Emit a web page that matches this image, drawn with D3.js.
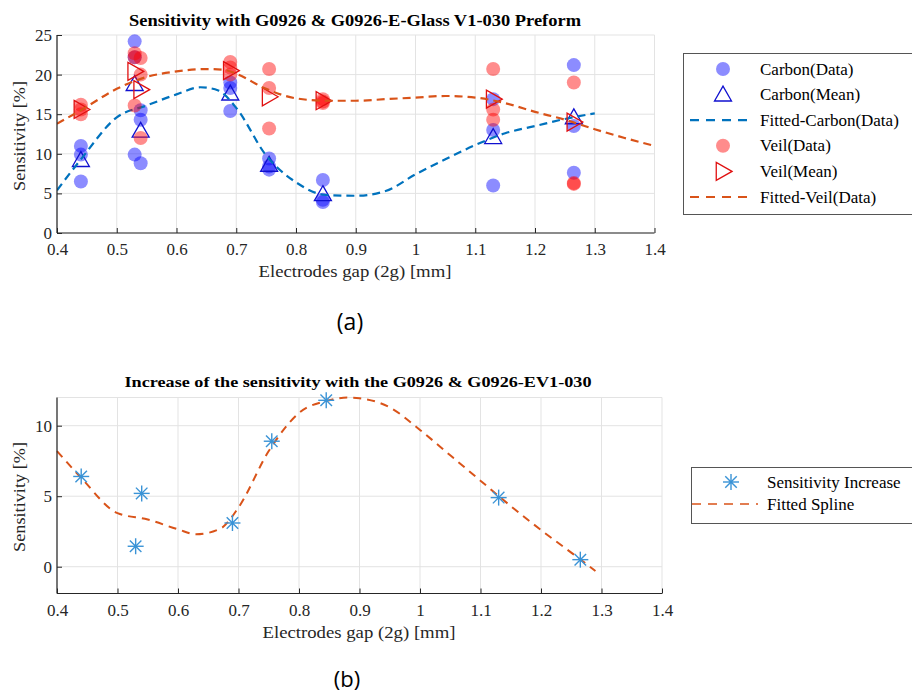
<!DOCTYPE html>
<html><head><meta charset="utf-8">
<script src="https://cdn.jsdelivr.net/npm/d3@7"></script>
<style>body{margin:0;background:#fff}svg{display:block}</style>
</head><body>
<svg id="c" width="912" height="694"></svg>
<script>
// ---------- DATA (a) ----------
const gaps = [0.44, 0.53, 0.54, 0.69, 0.755, 0.845, 1.13, 1.265];
const carbonData = [
  [11.0, 9.9, 6.5], [24.2, 22.2, 9.9], [15.5, 14.3, 8.8], [19.0, 18.3, 15.4],
  [9.4, 8.4, 8.0], [6.7, 4.2, 3.9], [16.9, 13.0, 6.0], [21.2, 13.5, 7.6]
];
const carbonMean = [9.2, 18.8, 12.9, 17.6, 8.6, 4.9, 12.1, 14.6];
const veilData = [
  [16.2, 15.6, 15.0], [22.7, 22.2, 16.1], [22.1, 20.0, 12.0], [21.6, 20.9, 20.0],
  [20.7, 18.3, 13.2], [16.9, 16.6, 16.4], [20.7, 15.6, 14.3], [19.0, 6.3, 6.2]
];
const veilMean = [15.6, 20.4, 18.1, 20.5, 17.2, 16.7, 16.9, 14.0];
const fitCarbonX = [0.40, 0.44, 0.50, 0.55, 0.60, 0.64, 0.67, 0.70, 0.75, 0.80, 0.85, 0.90, 0.95, 1.00, 1.05, 1.10, 1.15, 1.20, 1.25, 1.30];
const fitCarbonY = [5.4, 9.3, 14.6, 16.1, 17.5, 18.4, 18.0, 15.8, 9.8, 6.4, 4.8, 4.7, 5.3, 7.4, 9.3, 11.1, 12.6, 13.5, 14.4, 15.1];
const fitVeilX = [0.40, 0.44, 0.50, 0.55, 0.60, 0.65, 0.68, 0.70, 0.75, 0.80, 0.85, 0.90, 0.95, 1.00, 1.05, 1.10, 1.15, 1.20, 1.25, 1.30, 1.35, 1.40];
const fitVeilY = [13.8, 15.5, 18.2, 19.7, 20.4, 20.7, 20.6, 20.1, 18.2, 17.0, 16.7, 16.7, 16.9, 17.1, 17.3, 17.1, 16.4, 15.3, 14.3, 13.1, 12.0, 11.0];
// ---------- DATA (b) ----------
const incX = [0.44, 0.53, 0.54, 0.69, 0.755, 0.845, 1.13, 1.265];
const incY = [6.4, 1.45, 5.2, 3.1, 8.9, 11.8, 4.9, 0.5];
const splineX = [0.40, 0.44, 0.50, 0.55, 0.60, 0.63, 0.67, 0.70, 0.75, 0.80, 0.85, 0.88, 0.90, 0.95, 1.00, 1.05, 1.10, 1.15, 1.20, 1.25, 1.29];
const splineY = [8.2, 6.3, 3.8, 3.35, 2.65, 2.3, 2.7, 4.2, 8.2, 10.9, 11.8, 12.0, 11.95, 11.3, 9.7, 7.9, 6.1, 4.3, 2.6, 1.0, -0.3];
const xTicks = [0.4, 0.5, 0.6, 0.7, 0.8, 0.9, 1, 1.1, 1.2, 1.3, 1.4];
const yTicksA = [0, 5, 10, 15, 20, 25];
const yTicksB = [0, 5, 10];

const serif = "'Liberation Serif', 'DejaVu Serif', serif";
const sans = "'Open Sans', 'Noto Sans', sans-serif";
const cBlue = "#0072BD", cOrange = "#D95319";
const svg = d3.select("#c");

function axesFrame(g, x, y, yTicks) {
  const [x0, x1] = x.range(); const [y0, y1] = y.range();
  g.append("g").selectAll("line").data(xTicks).join("line")
    .attr("x1", d => x(d)).attr("x2", d => x(d)).attr("y1", y0).attr("y2", y1)
    .attr("stroke", "#e3e3e3").attr("stroke-width", 1);
  g.append("g").selectAll("line").data(yTicks).join("line")
    .attr("y1", d => y(d)).attr("y2", d => y(d)).attr("x1", x0).attr("x2", x1)
    .attr("stroke", "#e3e3e3").attr("stroke-width", 1);
  if (y(yTicks[yTicks.length-1]) !== y1) {
    g.append("line").attr("x1", x0).attr("x2", x1).attr("y1", y1).attr("y2", y1)
      .attr("stroke", "#e3e3e3");
  }
}
function axesTicks(g, x, y, yTicks) {
  const [x0, x1] = x.range(); const [y0, y1] = y.range();
  const xa = d3.axisBottom(x).tickValues(xTicks).tickSize(-5).tickPadding(10).tickFormat(d3.format("~g"));
  const ga = g.append("g").attr("transform", `translate(0,${y0})`).call(xa);
  const ya = d3.axisLeft(y).tickValues(yTicks).tickSize(-5).tickPadding(5).tickFormat(d3.format("~g"));
  const gy = g.append("g").attr("transform", `translate(${x0},0)`).call(ya);
  [ga, gy].forEach(s => {
    s.select(".domain").attr("stroke", "#262626").attr("stroke-width", 1.2);
    s.selectAll(".tick line").attr("stroke", "#262626");
    s.selectAll(".tick text").attr("font-family", serif).attr("font-size", 17).attr("fill", "#262626");
  });
  gy.select(".domain").attr("d", `M0,${y0}V${y1}`);
  ga.select(".domain").attr("d", `M${x0},0H${x1}`);
}

function asterisk(g, cx, cy, r, color) {
  const s = g.append("g").attr("transform", `translate(${cx},${cy})`).attr("stroke", color).attr("stroke-width", 1.4);
  s.append("line").attr("x1", -r).attr("x2", r);
  s.append("line").attr("y1", -r).attr("y2", r);
  const d = r * 0.72;
  s.append("line").attr("x1", -d).attr("y1", -d).attr("x2", d).attr("y2", d);
  s.append("line").attr("x1", -d).attr("y1", d).attr("x2", d).attr("y2", -d);
  s.append("circle").attr("r", 1.5).attr("fill", color).attr("stroke", "none");
}
const triUp = (cx, cy, s) => `M${cx},${cy - s}L${cx + s},${cy + s * 0.75}L${cx - s},${cy + s * 0.75}Z`;
const triRight = (cx, cy, s) => `M${cx + s},${cy}L${cx - s * 0.75},${cy - s}L${cx - s * 0.75},${cy + s}Z`;

// ================= CHART (a) =================
const xA = d3.scaleLinear().domain([0.4, 1.4]).range([57, 654.5]);
const yA = d3.scaleLinear().domain([0, 25]).range([233, 35]);
const gA = svg.append("g");
axesFrame(gA, xA, yA, yTicksA);

svg.append("clipPath").attr("id", "clipA").append("rect")
  .attr("x", 57).attr("y", 35).attr("width", 597.5).attr("height", 198);

const lineA = d3.line().x(d => xA(d[0])).y(d => yA(d[1])).curve(d3.curveMonotoneX);

const carbonPts = []; gaps.forEach((g, i) => carbonData[i].forEach(v => carbonPts.push([g, v])));
const veilPts = []; gaps.forEach((g, i) => veilData[i].forEach(v => veilPts.push([g, v])));
gA.append("g").selectAll("circle").data(carbonPts).join("circle")
  .attr("cx", d => xA(d[0])).attr("cy", d => yA(d[1])).attr("r", 7)
  .attr("fill", "#0000ff").attr("fill-opacity", 0.45);
gA.append("g").selectAll("path").data(gaps).join("path")
  .attr("d", (d, i) => triUp(xA(d), yA(carbonMean[i]), 8.5))
  .attr("fill", "none").attr("stroke", "#1010d0").attr("stroke-width", 1.3);
gA.append("path").datum(fitCarbonX.map((x, i) => [x, fitCarbonY[i]])).attr("d", lineA)
  .attr("fill", "none").attr("stroke", cBlue).attr("stroke-width", 2.2).attr("stroke-dasharray", "8,5")
  .attr("clip-path", "url(#clipA)");
gA.append("g").selectAll("circle").data(veilPts).join("circle")
  .attr("cx", d => xA(d[0])).attr("cy", d => yA(d[1])).attr("r", 7)
  .attr("fill", "#ff0000").attr("fill-opacity", 0.45);
gA.append("g").selectAll("path").data(gaps).join("path")
  .attr("d", (d, i) => triRight(xA(d), yA(veilMean[i]), 9))
  .attr("fill", "none").attr("stroke", "#e01010").attr("stroke-width", 1.3);
gA.append("path").datum(fitVeilX.map((x, i) => [x, fitVeilY[i]])).attr("d", lineA)
  .attr("fill", "none").attr("stroke", cOrange).attr("stroke-width", 2.2).attr("stroke-dasharray", "8,5")
  .attr("clip-path", "url(#clipA)");
axesTicks(gA, xA, yA, yTicksA);

svg.append("text").attr("x", 355).attr("y", 26).attr("text-anchor", "middle")
  .attr("font-family", serif).attr("font-weight", "bold").attr("font-size", 16.5).attr("fill", "#000")
  .attr("textLength", 452).attr("lengthAdjust", "spacingAndGlyphs")
  .text("Sensitivity with G0926 & G0926-E-Glass V1-030 Preform");
svg.append("text").attr("x", 355).attr("y", 277).attr("text-anchor", "middle")
  .attr("font-family", serif).attr("font-size", 17.5).attr("fill", "#262626")
  .attr("textLength", 193).attr("lengthAdjust", "spacingAndGlyphs")
  .text("Electrodes gap (2g) [mm]");
svg.append("text").attr("transform", "translate(25,136) rotate(-90)").attr("text-anchor", "middle")
  .attr("font-family", serif).attr("font-size", 17.5).attr("fill", "#262626")
  .attr("textLength", 110).attr("lengthAdjust", "spacingAndGlyphs")
  .text("Sensitivity [%]");
svg.append("text").attr("x", 350).attr("y", 330).attr("text-anchor", "middle")
  .attr("font-family", sans).attr("font-size", 23).attr("fill", "#000").text("(a)");

// Legend (a)
const legA = svg.append("g");
legA.append("rect").attr("x", 683.5).attr("y", 53.5).attr("width", 240).attr("height", 161)
  .attr("fill", "#fff").attr("stroke", "#555").attr("stroke-width", 1);
const legItemsA = [
  { t: "Carbon(Data)", k: "dotB" }, { t: "Carbon(Mean)", k: "triB" }, { t: "Fitted-Carbon(Data)", k: "lineB" },
  { t: "Veil(Data)", k: "dotR" }, { t: "Veil(Mean)", k: "triR" }, { t: "Fitted-Veil(Data)", k: "lineO" }
];
legItemsA.forEach((it, i) => {
  const yy = 69 + i * 25.6;
  if (it.k === "dotB") legA.append("circle").attr("cx", 723).attr("cy", yy).attr("r", 7).attr("fill", "#0000ff").attr("fill-opacity", 0.45);
  if (it.k === "dotR") legA.append("circle").attr("cx", 723).attr("cy", yy).attr("r", 7).attr("fill", "#ff0000").attr("fill-opacity", 0.45);
  if (it.k === "triB") legA.append("path").attr("d", triUp(723, yy, 8.5)).attr("fill", "none").attr("stroke", "#1010d0").attr("stroke-width", 1.3);
  if (it.k === "triR") legA.append("path").attr("d", triRight(723, yy, 9)).attr("fill", "none").attr("stroke", "#e01010").attr("stroke-width", 1.3);
  if (it.k === "lineB" || it.k === "lineO") legA.append("line").attr("x1", 690).attr("x2", 749).attr("y1", yy).attr("y2", yy)
    .attr("stroke", it.k === "lineB" ? cBlue : cOrange).attr("stroke-width", 2.2).attr("stroke-dasharray", "9,7");
  legA.append("text").attr("x", 760).attr("y", yy + 5.5).attr("font-family", serif).attr("font-size", 17)
    .attr("fill", "#000").text(it.t);
});

// ================= CHART (b) =================
const xB = d3.scaleLinear().domain([0.4, 1.4]).range([57, 662]);
const yB = d3.scaleLinear().domain([-1.9, 12]).range([593.5, 397.5]);
const gB = svg.append("g");
axesFrame(gB, xB, yB, yTicksB);
const lineB = d3.line().x(d => xB(d[0])).y(d => yB(d[1])).curve(d3.curveMonotoneX);
gB.append("path").datum(splineX.map((x, i) => [x, splineY[i]])).attr("d", lineB)
  .attr("fill", "none").attr("stroke", cOrange).attr("stroke-width", 2).attr("stroke-dasharray", "8,6");
incX.forEach((x, i) => asterisk(gB, xB(x), yB(incY[i]), 8, "#3a93d6"));
axesTicks(gB, xB, yB, yTicksB);

svg.append("text").attr("x", 358).attr("y", 387).attr("text-anchor", "middle")
  .attr("font-family", serif).attr("font-weight", "bold").attr("font-size", 15.5).attr("fill", "#000")
  .attr("textLength", 467).attr("lengthAdjust", "spacingAndGlyphs")
  .text("Increase of the sensitivity with the G0926 & G0926-EV1-030");
svg.append("text").attr("x", 359).attr("y", 638).attr("text-anchor", "middle")
  .attr("font-family", serif).attr("font-size", 17.5).attr("fill", "#262626")
  .attr("textLength", 193).attr("lengthAdjust", "spacingAndGlyphs")
  .text("Electrodes gap (2g) [mm]");
svg.append("text").attr("transform", "translate(25,497) rotate(-90)").attr("text-anchor", "middle")
  .attr("font-family", serif).attr("font-size", 17.5).attr("fill", "#262626")
  .attr("textLength", 110).attr("lengthAdjust", "spacingAndGlyphs")
  .text("Sensitivity [%]");
svg.append("text").attr("x", 347).attr("y", 687).attr("text-anchor", "middle")
  .attr("font-family", sans).attr("font-size", 22).attr("fill", "#000").text("(b)");

// Legend (b)
const legB = svg.append("g");
legB.append("rect").attr("x", 691.5).attr("y", 467.5).attr("width", 240).attr("height", 56)
  .attr("fill", "#fff").attr("stroke", "#555").attr("stroke-width", 1);
asterisk(legB, 731, 482, 8, "#3a93d6");
legB.append("text").attr("x", 767).attr("y", 487.5).attr("font-family", serif).attr("font-size", 17).text("Sensitivity Increase");
legB.append("line").attr("x1", 692).attr("x2", 758).attr("y1", 504).attr("y2", 504)
  .attr("stroke", cOrange).attr("stroke-width", 1.6).attr("stroke-dasharray", "9,7");
legB.append("text").attr("x", 767).attr("y", 509.5).attr("font-family", serif).attr("font-size", 17).text("Fitted Spline");
</script>
</body></html>
